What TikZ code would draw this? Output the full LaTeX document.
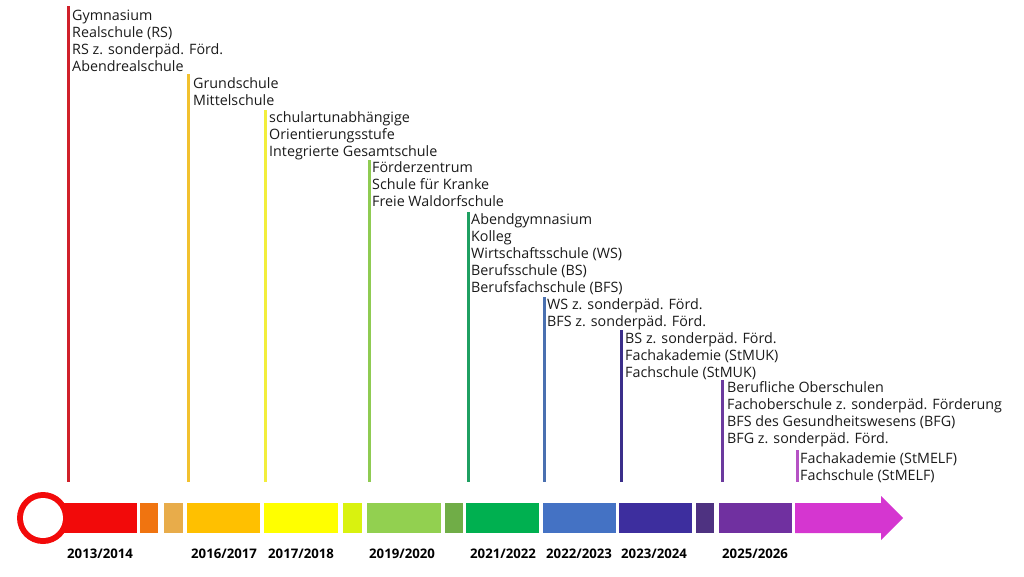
\documentclass[tikz,border=0pt]{standalone}
\usepackage{fontspec}
\setmainfont{Open Sans}
\definecolor{txt}{HTML}{1A1A1A}
% bar colours
\definecolor{bRed}{HTML}{F20A0A}
\definecolor{bOrange}{HTML}{F07410}
\definecolor{bLOrange}{HTML}{E8AC4A}
\definecolor{bGold}{HTML}{FFC000}
\definecolor{bYellow}{HTML}{FFFF00}
\definecolor{bLime}{HTML}{D9F20F}
\definecolor{bLGreen}{HTML}{92D050}
\definecolor{bMGreen}{HTML}{70AD47}
\definecolor{bGreen}{HTML}{00B050}
\definecolor{bBlue}{HTML}{4472C4}
\definecolor{bIndigo}{HTML}{3D2E9E}
\definecolor{bDPurple}{HTML}{4E3281}
\definecolor{bPurple}{HTML}{7030A0}
\definecolor{bMagenta}{HTML}{D536D0}
% line colours
\definecolor{lRed}{HTML}{D0202A}
\definecolor{lGold}{HTML}{F2C12E}
\definecolor{lYellow}{HTML}{F2EE3C}
\definecolor{lLGreen}{HTML}{8FCB52}
\definecolor{lGreen}{HTML}{1FA062}
\definecolor{lBlue}{HTML}{4A70B0}
\definecolor{lIndigo}{HTML}{3B2E8A}
\definecolor{lPurple}{HTML}{6B3A9E}
\definecolor{lMagenta}{HTML}{B552C4}
\begin{document}
\begin{tikzpicture}[x=1pt,y=-1pt,
  blk/.style={anchor=north west, inner sep=0pt, align=left, font=\fontsize{14.3}{17}\selectfont, text=txt},
  yr/.style={anchor=base west, inner sep=0pt, font=\fontsize{13.2}{15}\selectfont\bfseries, text=black},
  vl/.style={line width=3pt}]
\useasboundingbox (0,0) rectangle (1024,576);

% ---- bar ----
\fill[bRed] (43,503) rectangle (137,533);
\fill[bRed] (43,518) circle (26);
\fill[white] (43,518) circle (20);
\fill[bOrange] (140,503) rectangle (158,533);
\fill[bLOrange] (164,503) rectangle (183,533);
\fill[bGold] (187,503) rectangle (260,533);
\fill[bYellow] (264,503) rectangle (338,533);
\fill[bLime] (343,503) rectangle (362,533);
\fill[bLGreen] (367,503) rectangle (441,533);
\fill[bMGreen] (445,503) rectangle (463,533);
\fill[bGreen] (466,503) rectangle (539,533);
\fill[bBlue] (543,503) rectangle (616,533);
\fill[bIndigo] (619,503) rectangle (692,533);
\fill[bDPurple] (696,503) rectangle (714,533);
\fill[bPurple] (719,503) rectangle (792,533);
\fill[bMagenta] (795,503) -- (881,503) -- (881,496) -- (903,518) -- (881,540) -- (881,533) -- (795,533) -- cycle;

% ---- year labels ----
\node[yr] (y1) at (67,558) {2013/2014};
\node[yr] (y2) at (191,558) {2016/2017};
\node[yr] (y3) at (268,558) {2017/2018};
\node[yr] (y4) at (369,558) {2019/2020};
\node[yr] (y5) at (470,558) {2021/2022};
\node[yr] (y6) at (546,558) {2022/2023};
\node[yr] (y7) at (621,558) {2023/2024};
\node[yr] (y8) at (722,558) {2025/2026};

% ---- text blocks (y = first baseline - 11.9) ----
\node[blk] (t1) at (72,8.6) {\strut Gymnasium\\Realschule (RS)\\RS z. sonderpäd. Förd.\\Abendrealschule};
\node[blk] (t2) at (193,76.6) {\strut Grundschule\\Mittelschule};
\node[blk] (t3) at (269,110.6) {\strut schulartunabhängige\\Orientierungsstufe\\Integrierte Gesamtschule};
\node[blk] (t4) at (372,160.6) {\strut Förderzentrum\\Schule für Kranke\\Freie Waldorfschule};
\node[blk] (t5) at (471,212.6) {\strut Abendgymnasium\\Kolleg\\Wirtschaftsschule (WS)\\Berufsschule (BS)\\Berufsfachschule (BFS)};
\node[blk] (t6) at (547,297.6) {\strut WS z. sonderpäd. Förd.\\BFS z. sonderpäd. Förd.};
\node[blk] (t7) at (625,331.6) {\strut BS z. sonderpäd. Förd.\\Fachakademie (StMUK)\\Fachschule (StMUK)};
\node[blk] (t8) at (727,380.6) {\strut Berufliche Oberschulen\\Fachoberschule z. sonderpäd. Förderung\\BFS des Gesundheitswesens (BFG)\\BFG z. sonderpäd. Förd.};
\node[blk] (t9) at (800,451.6) {\strut Fachakademie (StMELF)\\Fachschule (StMELF)};

% ---- vertical lines ----
\coordinate (a1) at (68,6);    \coordinate (b1) at (68,482);
\coordinate (a2) at (188,74);  \coordinate (b2) at (188,482);
\coordinate (a3) at (265,110); \coordinate (b3) at (265,482);
\coordinate (a4) at (369,160); \coordinate (b4) at (369,482);
\coordinate (a5) at (468,212); \coordinate (b5) at (468,482);
\coordinate (a6) at (544,297); \coordinate (b6) at (544,482);
\coordinate (a7) at (621,330); \coordinate (b7) at (621,482);
\coordinate (a8) at (722,380); \coordinate (b8) at (722,482);
\coordinate (a9) at (797,450); \coordinate (b9) at (797,482);
\draw[vl,lRed] (a1) -- (b1);
\draw[vl,lGold] (a2) -- (b2);
\draw[vl,lYellow] (a3) -- (b3);
\draw[vl,lLGreen] (a4) -- (b4);
\draw[vl,lGreen] (a5) -- (b5);
\draw[vl,lBlue] (a6) -- (b6);
\draw[vl,lIndigo] (a7) -- (b7);
\draw[vl,lPurple] (a8) -- (b8);
\draw[vl,lMagenta] (a9) -- (b9);
\end{tikzpicture}
\end{document}
